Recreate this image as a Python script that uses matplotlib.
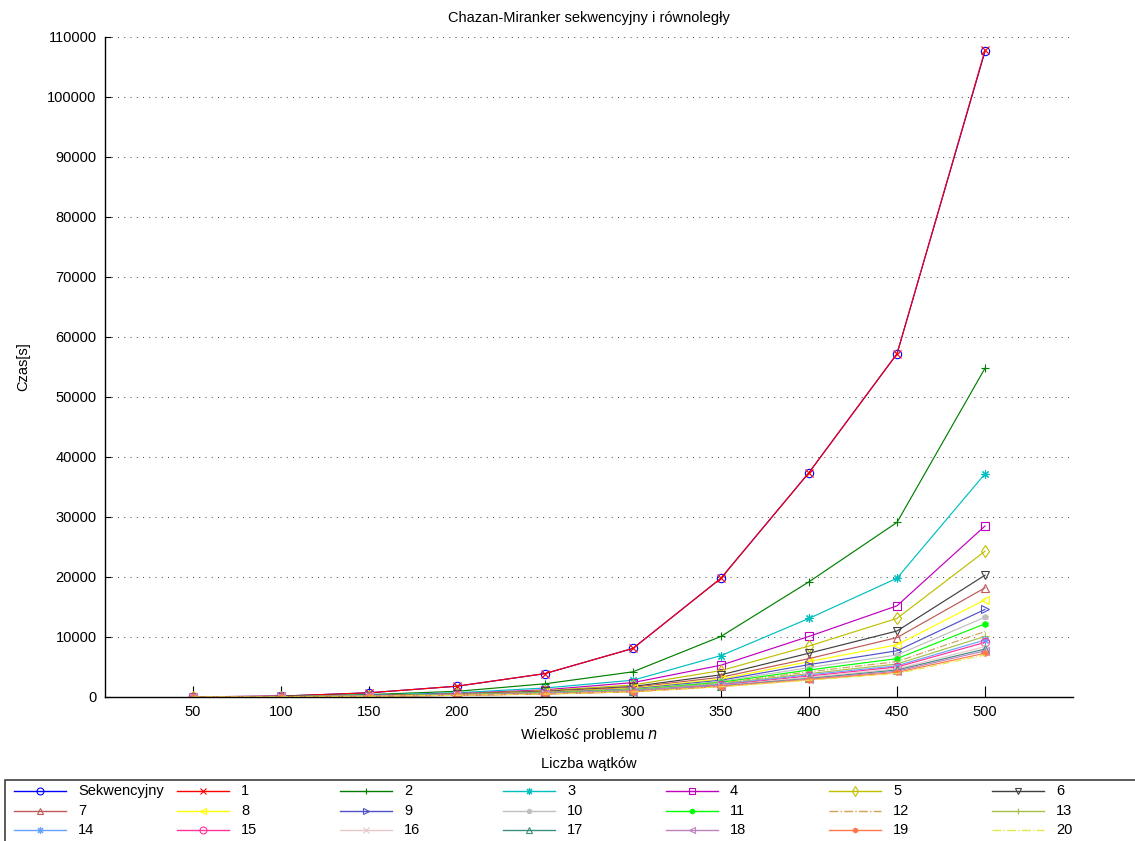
import matplotlib
matplotlib.use("Agg")
import matplotlib.pyplot as plt
from matplotlib.lines import Line2D
from matplotlib.patches import Rectangle

plt.rcParams["font.family"] = ["Liberation Sans", "DejaVu Sans"]
plt.rcParams["font.size"] = 10.5

# problem sizes
n = [50, 100, 150, 200, 250, 300, 350, 400, 450, 500]

# run times [s], sequential version and 1..20 threads
seq = [20, 150, 700, 1800, 3900, 8100, 19800, 37400, 57200, 107600]
w1  = [20, 150, 700, 1800, 3900, 8100, 19800, 37400, 57200, 107800]
w2  = [15, 90, 400, 950, 2200, 4200, 10100, 19200, 29100, 54800]
w3  = [12, 70, 300, 700, 1500, 2800, 6900, 13100, 19800, 37200]
w4  = [10, 60, 250, 560, 1200, 2400, 5300, 10100, 15200, 28500]
w5  = [10, 55, 220, 500, 1050, 2000, 4400, 8500, 13100, 24300]
w6  = [10, 50, 200, 450, 950, 1750, 3700, 7300, 11000, 20300]
w7  = [10, 50, 190, 420, 870, 1600, 3300, 6400, 9900, 18200]
w8  = [10, 45, 180, 400, 800, 1450, 3000, 5900, 8700, 16200]
w9  = [10, 45, 170, 380, 750, 1350, 2800, 5400, 7700, 14600]
w10 = [10, 45, 160, 360, 700, 1250, 2600, 4900, 7000, 13300]
w11 = [10, 40, 155, 350, 670, 1200, 2450, 4500, 6400, 12200]
w12 = [10, 40, 150, 340, 640, 1150, 2300, 4200, 5900, 10900]
w13 = [10, 40, 145, 330, 620, 1100, 2200, 3900, 5500, 10100]
w14 = [10, 40, 140, 320, 600, 1050, 2100, 3700, 5200, 9500]
w15 = [10, 40, 135, 310, 580, 1000, 2000, 3500, 5000, 9100]
w16 = [10, 40, 130, 300, 560, 960, 1900, 3300, 4700, 8400]
w17 = [10, 40, 125, 295, 540, 930, 1850, 3100, 4500, 8000]
w18 = [10, 40, 120, 290, 520, 900, 1800, 3000, 4300, 7700]
w19 = [10, 40, 115, 285, 500, 870, 1750, 2900, 4100, 7300]
w20 = [10, 40, 110, 280, 490, 850, 1700, 2800, 3900, 7000]

labels = ["Sekwencyjny"] + [str(i) for i in range(1, 21)]
series = [seq, w1, w2, w3, w4, w5, w6, w7, w8, w9, w10,
          w11, w12, w13, w14, w15, w16, w17, w18, w19, w20]

AST = (8, 2, 0)   # asterisk marker
styles = [
    ("#0000ff", "o", "-"),
    ("#ff0000", "x", "-"),
    ("#008000", "+", "-"),
    ("#00bfbf", AST, "-"),
    ("#bf00bf", "s", "-"),
    ("#bfbf00", "d", "-"),
    ("#404040", "v", "-"),
    ("#c05858", "^", "-"),
    ("#ffff00", "<", "-"),
    ("#5050c8", ">", "-"),
    ("#bfbfbf", "p", "-"),
    ("#00ff00", "h", "-"),
    ("#d0a060", "None", "-."),
    ("#a6c04a", "+", "-"),
    ("#66a3ff", AST, "-"),
    ("#ff3399", "o", "-"),
    ("#e8c8c8", "x", "-"),
    ("#3f8f80", "^", "-"),
    ("#c080c0", "<", "-"),
    ("#ff7a4a", "h", "-"),
    ("#e6e64d", "None", "-."),
]
filled = {"p", "h"}


def marker_kw(c, m, size):
    if isinstance(m, str) and m in filled:
        return dict(mfc=c, markersize=size * 0.7)
    return dict(mfc="none", markersize=size)


W, H = 1135, 841
fig = plt.figure(figsize=(W / 100, H / 100), dpi=100)
ax = fig.add_axes([105 / W, 1 - 697 / H, (1073 - 105) / W, (697 - 37) / H])

for ys, lab, (c, m, ls) in zip(series, labels, styles):
    ax.plot(n, ys, color=c, marker=m, linestyle=ls, lw=0.85,
            mew=0.8, label=lab, **marker_kw(c, m, 6))

ax.set_xlim(0, 550)
ax.set_ylim(0, 110000)
ax.set_xticks(n)
ax.set_yticks(range(0, 110001, 10000))
ax.yaxis.grid(True, linestyle=(0, (1, 5)), color="#555555", lw=0.75)
ax.set_axisbelow(True)
for s in ["top", "right"]:
    ax.spines[s].set_visible(False)
for s in ["left", "bottom"]:
    ax.spines[s].set_linewidth(1.0)
ax.tick_params(axis="x", direction="in", length=8, width=0.8, pad=6)
ax.tick_params(axis="y", direction="in", length=4, width=0.8, pad=6)

ax.set_xlabel("Wielkość problemu $n$", labelpad=5)
ax.set_ylabel("Czas[s]", labelpad=12)
fig.text(589 / W, 1 - 18 / H, "Chazan-Miranker sekwencyjny i równoległy",
         ha="center", va="center")

# legend box below the plot (7 columns x 3 rows)
fig.text(589 / W, 1 - 764 / H, "Liczba wątków", ha="center", va="center")
fig.add_artist(Rectangle((5 / W, -0.05), 1.2, 1 - 780 / H + 0.05,
                         transform=fig.transFigure, fill=False,
                         edgecolor="#404040", lw=1.2))
col_x = [14, 177, 340, 503, 666, 829, 992]
row_y = [791, 811, 830]
for k, (lab, (c, m, ls)) in enumerate(zip(labels, styles)):
    x0 = col_x[k % 7]
    y0 = row_y[k // 7]
    xs = [x0 / W, (x0 + 26) / W, (x0 + 52) / W]
    yy = [1 - y0 / H] * 3
    fig.add_artist(Line2D(xs, yy, transform=fig.transFigure, color=c,
                          linestyle=ls, lw=1.0, marker=m, markevery=[1],
                          mew=0.8, **marker_kw(c, m, 5)))
    fig.text((x0 + 64) / W, 1 - y0 / H, lab, ha="left", va="center")

fig.savefig("out.png", dpi=100)
